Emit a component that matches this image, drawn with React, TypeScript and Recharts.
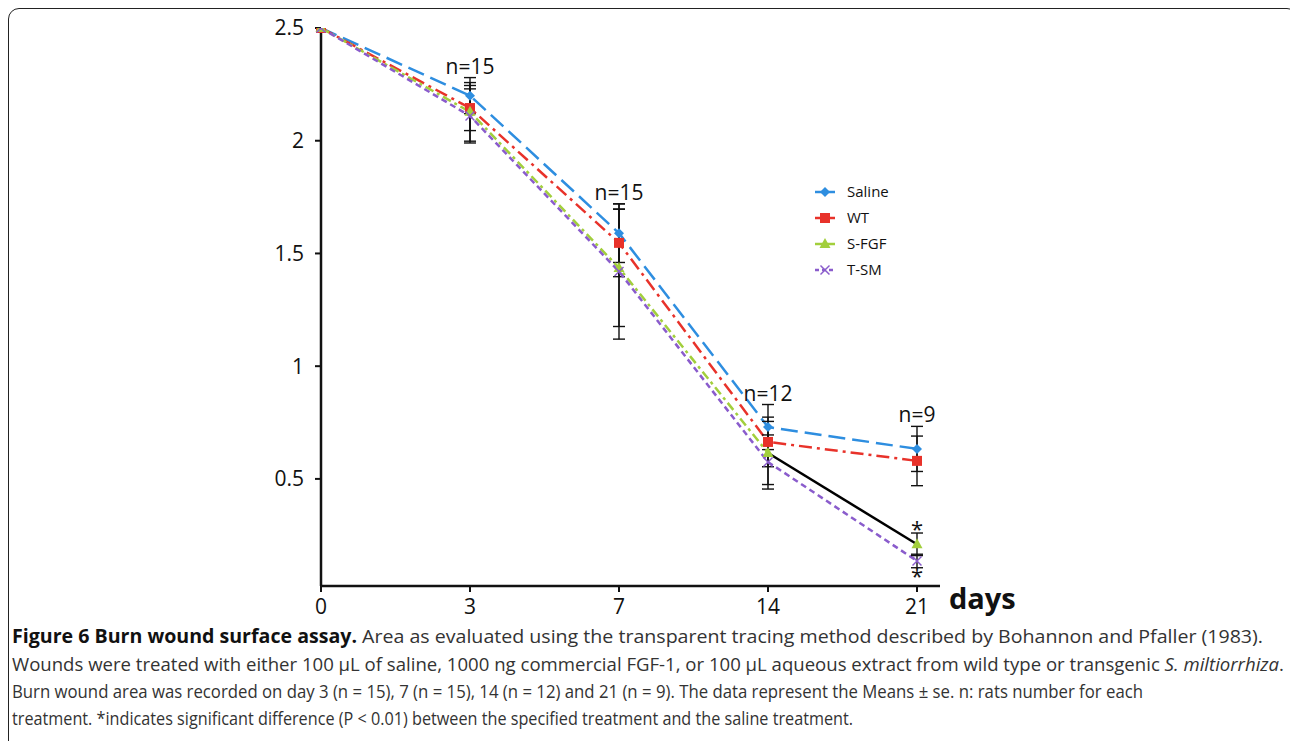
import React from 'react';
import { LineChart, Line, XAxis, YAxis, ErrorBar, ReferenceDot } from 'recharts';

const days = ['0', '3', '7', '14', '21'];
const saline = [2.5, 2.2, 1.59, 0.73, 0.633];
const salineErr = [0, 0.08, 0.13, 0.1, 0.1];
const wt = [2.5, 2.145, 1.547, 0.664, 0.58];
const wtErr = [0, 0.1, 0.15, 0.11, 0.11];
const sfgf = [2.5, 2.128, 1.436, 0.615, 0.21];
const sfgfErr = [0, 0.13, 0.26, 0.14, 0.05];
const tsm = [2.5, 2.11, 1.42, 0.575, 0.136];
const tsmErr = [0, 0.12, 0.3, 0.12, 0.03];
const nCounts = [null, 15, 15, 12, 9];
const yTicks = [0.5, 1, 1.5, 2, 2.5];
const tailFrom = 3; // S-FGF drawn as solid black from day 14 to day 21
const legendNames = ['Saline', 'WT', 'S-FGF', 'T-SM'];

const C_SAL = '#2e8ee0';
const C_WT = '#e8322a';
const C_FGF = '#a2cf3c';
const C_TSM = '#8a5ccc';

const data = days.map((d, i) => ({
  day: d,
  saline: saline[i],
  salineErr: salineErr[i] || null,
  wt: wt[i],
  wtErr: wtErr[i] || null,
  sfgf: i <= tailFrom ? sfgf[i] : null,
  sfgfErr: i <= tailFrom ? sfgfErr[i] || null : null,
  sfgfTail: i >= tailFrom ? sfgf[i] : null,
  sfgfTailErr: i > tailFrom ? sfgfErr[i] : null,
  tsm: tsm[i],
  tsmErr: tsmErr[i] || null,
}));

type Shape = 'diamond' | 'square' | 'triangle' | 'x';

function Marker({ cx, cy, shape, color }: { cx: number; cy: number; shape: Shape; color: string }) {
  if (shape === 'diamond') {
    return <polygon points={`${cx},${cy - 5} ${cx + 5},${cy} ${cx},${cy + 5} ${cx - 5},${cy}`} fill={color} />;
  }
  if (shape === 'square') {
    return <rect x={cx - 5} y={cy - 5} width={10} height={10} fill={color} />;
  }
  if (shape === 'triangle') {
    return <polygon points={`${cx},${cy - 6} ${cx + 5.5},${cy + 4} ${cx - 5.5},${cy + 4}`} fill={color} />;
  }
  return (
    <g stroke={color} strokeWidth={1.5}>
      <line x1={cx - 4.5} y1={cy - 4.5} x2={cx + 4.5} y2={cy + 4.5} />
      <line x1={cx - 4.5} y1={cy + 4.5} x2={cx + 4.5} y2={cy - 4.5} />
    </g>
  );
}

const makeDot = (shape: Shape, color: string, onlyIndex?: number) => (props: any) => {
  const { cx, cy, index, value } = props;
  if (cx == null || cy == null || value == null || (onlyIndex != null && index !== onlyIndex)) {
    return <g key={`e-${shape}-${index}`} />;
  }
  return (
    <g key={`d-${shape}-${index}`}>
      <Marker cx={cx} cy={cy} shape={shape} color={color} />
    </g>
  );
};

const legendStyles: { color: string; shape: Shape; dash: string }[] = [
  { color: C_SAL, shape: 'diamond', dash: '' },
  { color: C_WT, shape: 'square', dash: '' },
  { color: C_FGF, shape: 'triangle', dash: '' },
  { color: C_TSM, shape: 'x', dash: '4 3' },
];

const tickStyle = { fontSize: 21, fill: '#111', fontFamily: 'Open Sans' };
const errProps = { width: 6, stroke: '#111', strokeWidth: 1.4 };

export default function App() {
  return (
    <div style={{ position: 'fixed', left: 0, top: 0, width: 1290, height: 741, overflow: 'hidden', background: '#fff' }}>
      <div
        style={{
          position: 'absolute',
          left: 8,
          top: 7.5,
          width: 1290,
          height: 760,
          border: '1.6px solid #222',
          borderRadius: 11,
          boxSizing: 'border-box',
        }}
      />
      <div style={{ position: 'absolute', left: 0, top: 0 }}>
        <LineChart width={1290} height={625} data={data} margin={{ top: 28, right: 350, left: 261, bottom: 9 }}>
          <XAxis
            dataKey="day"
            height={30}
            padding={{ left: 0, right: 23 }}
            tick={tickStyle}
            tickSize={6}
            tickMargin={7}
            axisLine={{ stroke: '#111', strokeWidth: 2.5 }}
            tickLine={{ stroke: '#111', strokeWidth: 2 }}
            label={(p: any) => {
              const vb = p.viewBox;
              return (
                <text x={vb.x + vb.width + 9} y={vb.y + 23} fontSize={29} fontWeight="bold" fontFamily="Open Sans" fill="#111">
                  days
                </text>
              );
            }}
          />
          <YAxis
            width={60}
            domain={[0.025, 2.5]}
            ticks={yTicks}
            allowDataOverflow
            tick={tickStyle}
            tickSize={6}
            tickMargin={11}
            tickFormatter={(v: number) => String(v)}
            axisLine={{ stroke: '#111', strokeWidth: 2.5 }}
            tickLine={{ stroke: '#111', strokeWidth: 2 }}
          />
          <Line
            dataKey="saline"
            stroke={C_SAL}
            strokeWidth={2.5}
            strokeDasharray="17 7"
            dot={makeDot('diamond', C_SAL)}
            isAnimationActive={false}
          >
            <ErrorBar dataKey="salineErr" direction="y" {...errProps} />
          </Line>
          <Line
            dataKey="wt"
            stroke={C_WT}
            strokeWidth={2.5}
            strokeDasharray="13 5 3 5"
            dot={makeDot('square', C_WT)}
            isAnimationActive={false}
          >
            <ErrorBar dataKey="wtErr" direction="y" {...errProps} />
          </Line>
          <Line
            dataKey="sfgf"
            stroke={C_FGF}
            strokeWidth={2.5}
            strokeDasharray="9 4 3 4"
            dot={makeDot('triangle', C_FGF)}
            isAnimationActive={false}
          >
            <ErrorBar dataKey="sfgfErr" direction="y" {...errProps} />
          </Line>
          <Line
            dataKey="tsm"
            stroke={C_TSM}
            strokeWidth={2.5}
            strokeDasharray="6 4"
            dot={makeDot('x', C_TSM)}
            isAnimationActive={false}
          >
            <ErrorBar dataKey="tsmErr" direction="y" {...errProps} />
          </Line>
          <Line
            dataKey="sfgfTail"
            stroke="#000"
            strokeWidth={2.5}
            dot={makeDot('triangle', C_FGF, days.length - 1)}
            isAnimationActive={false}
            legendType="none"
          >
            <ErrorBar dataKey="sfgfTailErr" direction="y" {...errProps} />
          </Line>
          {days.map((d, i) =>
            nCounts[i] == null ? null : (
              <ReferenceDot
                key={`n-${d}`}
                x={d}
                y={saline[i] + salineErr[i]}
                r={0}
                fill="none"
                stroke="none"
                label={{ value: `n=${nCounts[i]}`, position: 'top', offset: 4, fontSize: 21, fill: '#111', fontFamily: 'Open Sans' }}
              />
            )
          )}
          <ReferenceDot
            x={days[4]}
            y={sfgf[4] + sfgfErr[4]}
            r={0}
            fill="none"
            stroke="none"
            label={{ value: '*', position: 'top', offset: -4, fontSize: 22, fill: '#111', fontFamily: 'Open Sans' }}
          />
          <ReferenceDot
            x={days[4]}
            y={tsm[4] - tsmErr[4]}
            r={0}
            fill="none"
            stroke="none"
            label={{ value: '*', position: 'bottom', offset: 1, fontSize: 22, fill: '#111', fontFamily: 'Open Sans' }}
          />
        </LineChart>
      </div>
      <svg style={{ position: 'absolute', left: 812, top: 180 }} width={120} height={110}>
        {legendNames.map((name, i) => {
          const y = 12 + i * 26;
          const s = legendStyles[i];
          return (
            <g key={name}>
              <line x1={3} x2={23} y1={y} y2={y} stroke={s.color} strokeWidth={2.5} strokeDasharray={s.dash || undefined} />
              <Marker cx={13} cy={y} shape={s.shape} color={s.color} />
              <text x={35} y={y + 5} fontSize={15} fontFamily="Open Sans" fill="#111">
                {name}
              </text>
            </g>
          );
        })}
      </svg>
      <svg style={{ position: 'absolute', left: 0, top: 620 }} width={1290} height={121} fontFamily="Open Sans" fontSize={19}>
        <text x={12} y={23} textLength={1251} lengthAdjust="spacingAndGlyphs" fill="#333">
          <tspan fontWeight="bold" fill="#111">Figure 6 Burn wound surface assay.</tspan>
          <tspan> Area as evaluated using the transparent tracing method described by Bohannon and Pfaller (1983).</tspan>
        </text>
        <text x={12} y={51} textLength={1272} lengthAdjust="spacingAndGlyphs" fill="#333">
          Wounds were treated with either 100 µL of saline, 1000 ng commercial FGF-1, or 100 µL aqueous extract from wild type or transgenic <tspan fontStyle="italic">S. miltiorrhiza</tspan>.
        </text>
        <text x={12} y={78} textLength={1131} lengthAdjust="spacingAndGlyphs" fill="#333">
          Burn wound area was recorded on day 3 (n = 15), 7 (n = 15), 14 (n = 12) and 21 (n = 9). The data represent the Means ± se. n: rats number for each
        </text>
        <text x={12} y={105} textLength={841} lengthAdjust="spacingAndGlyphs" fill="#333">
          treatment. *indicates significant difference (P &lt; 0.01) between the specified treatment and the saline treatment.
        </text>
      </svg>
    </div>
  );
}
